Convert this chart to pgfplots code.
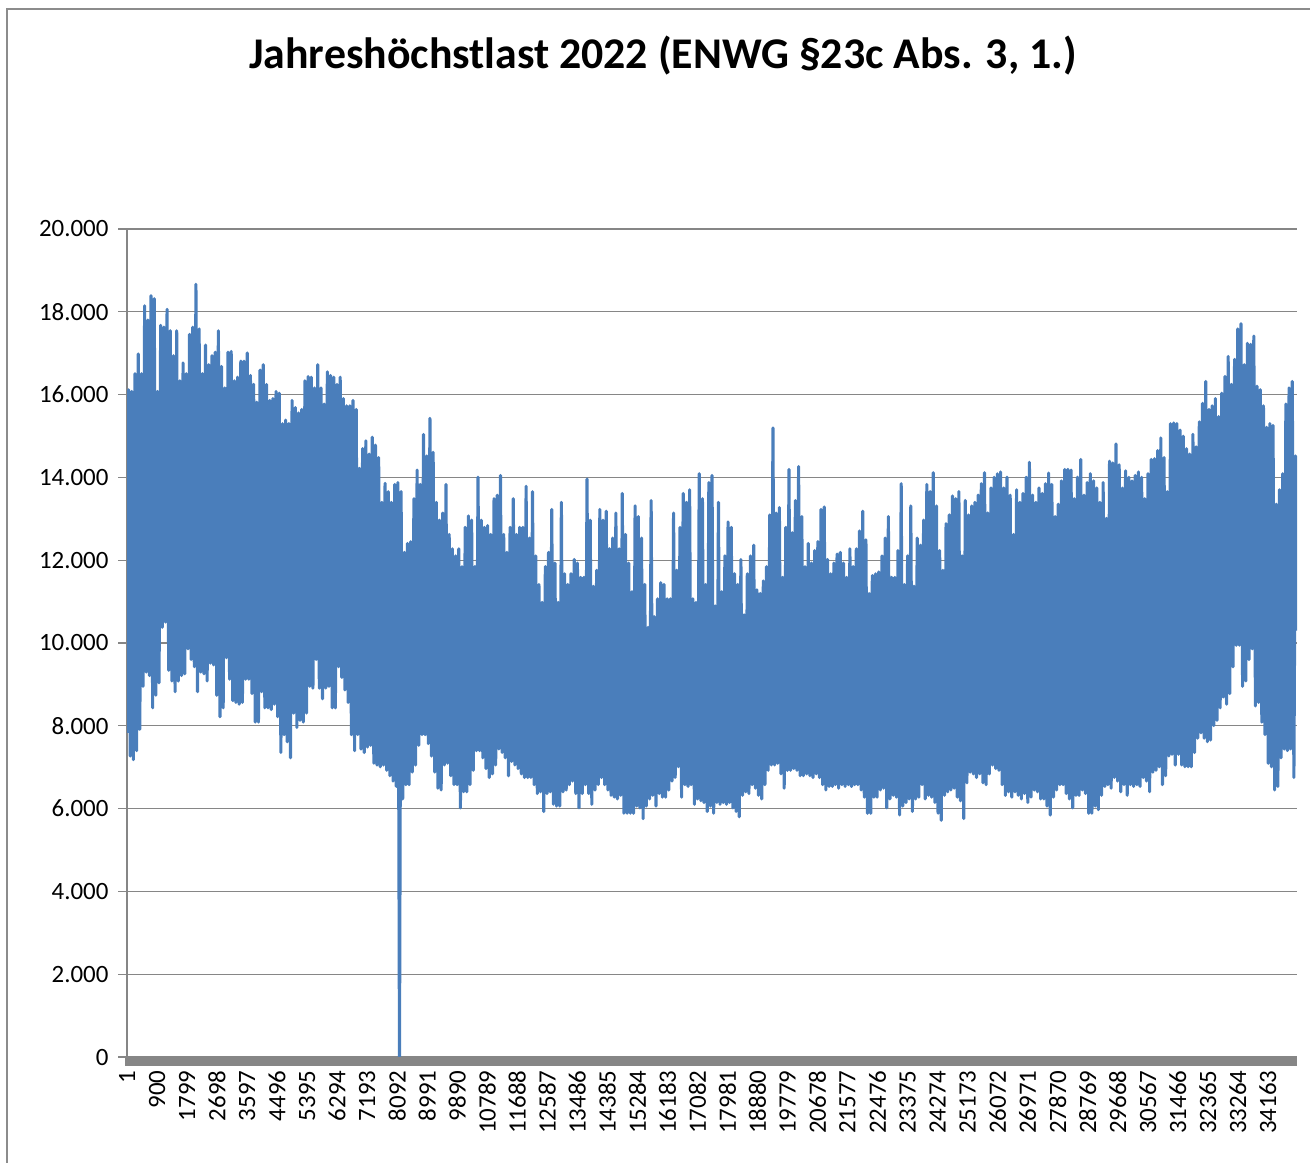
\documentclass[border=0pt]{standalone}
\usepackage{fontspec}
\setmainfont{Carlito}
\usepackage{pgfplots}
\pgfplotsset{compat=1.18}
\usepackage{pgfplotstable}
\definecolor{exblue}{RGB}{74,126,187}
\definecolor{axgray}{RGB}{134,134,134}
\definecolor{framegray}{RGB}{140,140,140}
% daily minimum and maximum, alternating (lo, hi), one pair per day
\pgfplotstableread[row sep=\\]{
v\\
7830\\16118\\7269\\16075\\7183\\16506\\7399\\16981\\7916\\16506\\8953\\18147\\9298\\17801\\9212\\18388\\8434\\18319\\8737\\16075\\
9039\\17672\\10377\\17629\\10507\\18060\\9341\\17542\\9082\\16938\\8823\\17542\\9082\\16334\\9212\\16765\\9255\\16506\\9859\\17456\\
9600\\17629\\9427\\18665\\8823\\17586\\9298\\16506\\9255\\17197\\9082\\16722\\9514\\16938\\9471\\17024\\8737\\17542\\8219\\16679\\
8434\\16161\\9643\\17024\\9125\\17042\\8607\\16334\\8564\\16420\\8521\\16809\\8564\\16809\\9125\\17007\\9125\\16463\\8780\\16247\\
8089\\15816\\8089\\16593\\8823\\16722\\8434\\16247\\8434\\15859\\8391\\15902\\8521\\16075\\8219\\16032\\7355\\15298\\7787\\15384\\
7614\\15298\\7226\\15859\\8305\\15686\\7960\\15557\\8132\\15643\\8089\\16334\\8305\\16437\\8953\\16420\\8909\\16161\\9600\\16722\\
8909\\16161\\8650\\15773\\8909\\16550\\8953\\16463\\8434\\16420\\8434\\16247\\9427\\16420\\9168\\15902\\8866\\15730\\8564\\15730\\
7787\\15859\\7399\\15643\\7787\\14219\\7440\\14694\\7355\\14883\\7485\\14564\\7528\\14970\\7096\\14780\\7053\\14478\\7010\\13398\\
7053\\13856\\6924\\13657\\6794\\13398\\6665\\13830\\6535\\13874\\0\\13657\\6233\\12190\\6578\\12406\\6578\\12449\\6881\\13485\\
7053\\14176\\7528\\13830\\7787\\15039\\7787\\14521\\7571\\15427\\7269\\14607\\6881\\13398\\6492\\12967\\6449\\13139\\7053\\13830\\
7096\\12622\\6794\\12276\\6578\\12104\\6578\\12276\\6017\\11845\\6406\\12794\\6406\\13070\\6578\\12967\\6924\\11845\\7399\\14003\\
7399\\12967\\7226\\12794\\6967\\12837\\6751\\12622\\6838\\13485\\7053\\13571\\7440\\14046\\7355\\12622\\7226\\12190\\6794\\12794\\
7140\\13485\\7053\\12622\\6967\\12794\\6838\\12794\\6751\\13787\\6751\\12535\\6751\\13657\\6578\\12104\\6363\\11413\\6406\\10981\\
5931\\11845\\6363\\12190\\6406\\13226\\6104\\11931\\6061\\10981\\6061\\13398\\6406\\11672\\6449\\11413\\6578\\11672\\6665\\12017\\
6363\\11931\\6017\\11586\\6363\\11586\\6578\\13960\\6363\\12967\\6104\\11370\\6449\\11758\\6578\\13226\\6751\\12967\\6578\\13182\\
6449\\12276\\6320\\12535\\6276\\13139\\6233\\12276\\6320\\13614\\5888\\12622\\5888\\11931\\5888\\11240\\5888\\13312\\6061\\13053\\
6017\\12535\\5759\\11413\\6061\\10377\\6233\\13442\\6320\\10636\\6061\\11068\\6363\\11456\\6276\\11413\\6276\\11068\\6449\\11068\\
6665\\13139\\6751\\11758\\7010\\12794\\6276\\13614\\6578\\13398\\6535\\13701\\6578\\11068\\6104\\10981\\6233\\14089\\6190\\13485\\
6147\\11413\\5931\\13874\\6061\\14046\\5888\\10895\\6147\\13398\\6104\\11240\\6147\\12104\\6104\\12924\\6147\\12794\\6017\\11672\\
5931\\11413\\5802\\12017\\6320\\10679\\6406\\11672\\6363\\12104\\6578\\12363\\6492\\11284\\6320\\11197\\6233\\11499\\6578\\11845\\
6924\\13096\\7053\\15194\\7053\\13139\\7096\\13269\\6838\\11586\\6492\\12794\\6924\\14193\\6924\\12665\\6967\\13442\\6924\\14262\\
6794\\13053\\6794\\11845\\6838\\12406\\6794\\11931\\6751\\12233\\6838\\12449\\6751\\13226\\6578\\13286\\6449\\12017\\6535\\11672\\
6535\\11931\\6578\\12147\\6492\\12190\\6578\\11931\\6535\\11586\\6578\\12276\\6535\\11845\\6578\\12276\\6578\\12708\\6449\\13182\\
6276\\12492\\5888\\11197\\5888\\11629\\6276\\11672\\6276\\11715\\6449\\12104\\6492\\12535\\6017\\13053\\6233\\11586\\6320\\11586\\
6276\\12233\\5845\\13848\\6061\\11413\\6147\\12104\\6233\\13312\\5931\\11370\\6233\\12535\\6276\\12363\\6578\\12967\\6233\\13830\\
6320\\13657\\6276\\14115\\6147\\13312\\5888\\12233\\5715\\11758\\6320\\12881\\6406\\13096\\6449\\13554\\6492\\13485\\6276\\13657\\
6190\\12104\\5759\\13442\\6622\\13096\\6881\\13312\\6838\\13398\\6751\\13571\\6838\\13848\\6622\\14115\\6578\\13139\\6838\\13744\\
7053\\14003\\6967\\14089\\6924\\14132\\6578\\13744\\6320\\14003\\6406\\13571\\6276\\12622\\6406\\13701\\6320\\13398\\6233\\13614\\
6363\\14003\\6147\\14365\\6276\\13571\\6449\\13398\\6406\\13744\\6233\\13614\\6233\\13848\\6061\\14106\\5845\\13830\\6276\\13053\\
6449\\13355\\6578\\13917\\6578\\14193\\6363\\14193\\6233\\14176\\6017\\13485\\6320\\14003\\6320\\14435\\6449\\13571\\6363\\13874\\
5888\\14089\\5888\\13917\\6061\\13744\\5974\\13398\\6320\\13874\\6535\\13010\\6578\\14391\\6492\\14348\\6751\\14806\\6665\\14305\\
6406\\13744\\6578\\14158\\6320\\14003\\6578\\13917\\6535\\14046\\6578\\14132\\6535\\14003\\6751\\13485\\6665\\14089\\6406\\14435\\
6881\\14452\\6924\\14650\\7010\\14953\\6578\\14478\\6794\\13657\\7269\\15298\\7312\\15315\\7053\\15298\\7312\\15142\\7053\\14996\\
7010\\14694\\7010\\14564\\7010\\15039\\7355\\14737\\7700\\15341\\7830\\15790\\7700\\16317\\7614\\15643\\7657\\15730\\8003\\15902\\
8132\\15470\\8434\\16032\\8694\\16437\\8521\\16921\\8780\\16247\\9427\\16852\\9945\\17586\\9945\\17715\\8953\\16722\\9082\\17240\\
9600\\17214\\9859\\17413\\8478\\16204\\8564\\16118\\8089\\15730\\7787\\15211\\7096\\15298\\7010\\15255\\6449\\13355\\6535\\13701\\
7226\\14089\\7440\\15773\\7399\\16161\\7440\\16317\\6751\\14521\\10300\\
}\loaddata
\begin{document}
\begin{tikzpicture}[x=1bp,y=1bp]
\useasboundingbox (0,0) rectangle (1310,1162);
\draw[framegray, line width=1.5bp] (7,-20) -- (7,1153) -- (1330,1153);
\node[anchor=base, font=\fontsize{44}{52}\selectfont\bfseries, inner sep=0pt] at (663,1093) {Jahreshöchstlast 2022 (ENWG §23c Abs. 3, 1.)};
\begin{axis}[
  at={(127bp,105bp)}, anchor=south west,
  scale only axis, width=1170bp, height=828bp,
  xmin=1, xmax=35040, ymin=0, ymax=20000,
  scaled x ticks=false, scaled y ticks=false,
  axis lines*=left,
  axis line style={-, axgray, line width=1.3bp},
  x axis line style={draw=none},
  ymajorgrids, grid style={axgray, line width=1.3bp},
  ytick={0,2000,...,20000},
  xtick={1,900,1799,2698,3597,4496,5395,6294,7193,8092,8991,9890,10789,11688,12587,13486,14385,15284,16183,17082,17981,18880,19779,20678,21577,22476,23375,24274,25173,26072,26971,27870,28769,29668,30567,31466,32365,33264,34163},
  xticklabels={1,900,1799,2698,3597,4496,5395,6294,7193,8092,8991,9890,10789,11688,12587,13486,14385,15284,16183,17082,17981,18880,19779,20678,21577,22476,23375,24274,25173,26072,26971,27870,28769,29668,30567,31466,32365,33264,34163},
  tick align=outside, major tick length=9bp,
  ytick style={axgray, line width=1.3bp},
  xtick style={draw=none},
  /pgf/number format/assume math mode=true,
  yticklabel style={font=\fontsize{25}{29}\selectfont, xshift=-6bp, /pgf/number format/fixed, /pgf/number format/precision=0, /pgf/number format/1000 sep={.}},
  xticklabel style={font=\fontsize{25}{29}\selectfont, rotate=90, anchor=east, xshift=-1bp},
]
\addplot[exblue, line width=3.1bp, line join=round, mark=none] table[x expr=\coordindex*48+1, y=v] {\loaddata};
\end{axis}
\fill[axgray] (125,105) rectangle (1297,96.5);
\end{tikzpicture}
\end{document}
